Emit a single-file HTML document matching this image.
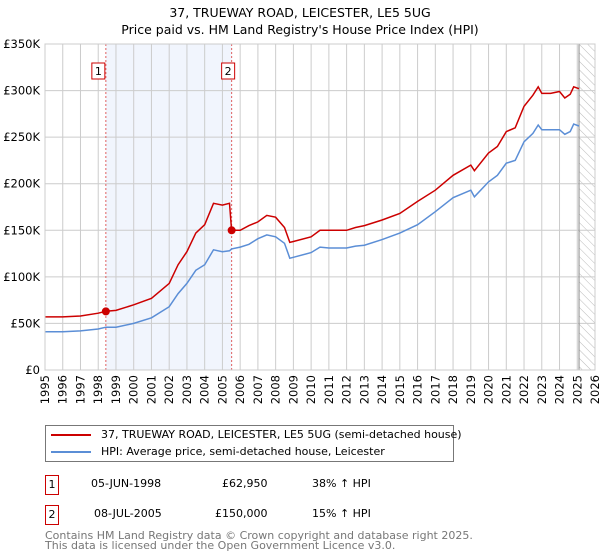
<!DOCTYPE html>
<html><head><meta charset="utf-8">
<style>
body{margin:0;background:#fff;font-family:"DejaVu Sans","Liberation Sans",sans-serif;}
#wrap{position:relative;width:600px;height:560px;overflow:hidden}
.t{position:absolute;font-size:11px;color:#000;white-space:nowrap}
</style></head><body>
<div id="wrap">
<svg id="chart" width="600" height="420" style="position:absolute;left:0;top:0"></svg>
<div style="position:absolute;left:45px;top:425px;width:407px;height:35px;border:1px solid #777">
 <div style="position:absolute;left:5px;top:8px;width:40px;height:2px;background:#cc0000"></div>
 <div class="t" style="left:55px;top:2px">37, TRUEWAY ROAD, LEICESTER, LE5 5UG (semi-detached house)</div>
 <div style="position:absolute;left:5px;top:25px;width:40px;height:2px;background:#5b8ed6"></div>
 <div class="t" style="left:55px;top:19px">HPI: Average price, semi-detached house, Leicester</div>
</div>
<div>
 <div class="t" style="left:45px;top:475px;width:12px;height:18px;border:1px solid #c00;text-align:center;line-height:18px">1</div>
 <div class="t" style="left:91px;top:477px">05-JUN-1998</div>
 <div class="t" style="left:222px;top:477px">£62,950</div>
 <div class="t" style="left:312px;top:477px">38% ↑ HPI</div>
</div>
<div>
 <div class="t" style="left:45px;top:505px;width:12px;height:18px;border:1px solid #c00;text-align:center;line-height:18px">2</div>
 <div class="t" style="left:94px;top:507px">08-JUL-2005</div>
 <div class="t" style="left:215px;top:507px">£150,000</div>
 <div class="t" style="left:312px;top:507px">15% ↑ HPI</div>
</div>
<div class="t" style="left:45px;top:531px;color:#777;line-height:10px">Contains HM Land Registry data © Crown copyright and database right 2025.<br>This data is licensed under the Open Government Licence v3.0.</div>
</div>
<script>
const hpiYears=[1995,1996,1997,1998,1998.43,1999,2000,2001,2002,2002.5,2003,2003.5,2004,2004.5,2005,2005.4,2005.52,2006,2006.5,2007,2007.5,2008,2008.5,2008.8,2009,2010,2010.5,2011,2012,2012.5,2013,2014,2015,2016,2017,2018,2019,2019.2,2020,2020.5,2021,2021.5,2022,2022.5,2022.8,2023,2023.5,2024,2024.3,2024.6,2024.8,2025.1];
const hpiValues=[41,41,42,44,46,46,50,56,68,82,93,107,113,129,127,128,130,132,135,141,145,143,136,120,121,126,132,131,131,133,134,140,147,156,170,185,193,186,202,209,222,225,245,254,263,258,258,258,253,256,264,262];
const priceValues=[57,57,58,61,63,64,70,77,93,113,127,147,156,179,177,179,150,150,155,159,166,164,153,137,138,143,150,150,150,153,155,161,168,181,193,209,220,214,233,240,256,260,283,295,304,297,297,299,292,296,304,302];
const yTicks=[0,50,100,150,200,250,300,350];
const yTickLabels=["£0","£50K","£100K","£150K","£200K","£250K","£300K","£350K"];
const sales=[{n:"1",year:1998.43,value:62.95},{n:"2",year:2005.52,value:150}];
const x0=45,x1=595,y0=370,y1=44;
const X=y=>x0+(y-1995)*(x1-x0)/31;
const Y=v=>y0-v*(y0-y1)/350;
const svg=document.getElementById('chart');const NS="http://www.w3.org/2000/svg";
function mk(t,a,p){const e=document.createElementNS(NS,t);for(const k in a)e.setAttribute(k,a[k]);(p||svg).appendChild(e);return e;}
let e;
e=mk('text',{x:300,y:17,'text-anchor':'middle','font-size':'12.5','font-family':'DejaVu Sans,sans-serif'});e.textContent="37, TRUEWAY ROAD, LEICESTER, LE5 5UG";


e=mk('text',{x:300,y:34,'text-anchor':'middle','font-size':'12.5','font-family':'DejaVu Sans,sans-serif'});e.textContent="Price paid vs. HM Land Registry's House Price Index (HPI)";


e=mk('rect',{x:X(sales[0].year),y:y1,width:X(sales[1].year)-X(sales[0].year),height:y0-y1,fill:'#eef3fc',opacity:0.8});


const defs=mk('defs',{});const pat=mk('pattern',{id:'h',width:6,height:6,patternUnits:'userSpaceOnUse',patternTransform:'rotate(-45)'},defs);mk('line',{x1:0,y1:0,x2:0,y2:6,stroke:'#bbb','stroke-width':1},pat);
e=mk('rect',{x:X(2025.1),y:y1,width:x1-X(2025.1),height:y0-y1,fill:'url(#h)'});


for(let yr=1995;yr<=2026;yr++){
 e=mk('line',{x1:X(yr),x2:X(yr),y1:y1,y2:y0,stroke:'#cccccc','stroke-width':1});
 
 
 const tx=X(yr)+4,ty=375;
 e=mk('text',{x:tx,y:ty,'text-anchor':'end','font-size':'11.5','font-family':'DejaVu Sans,sans-serif',transform:`rotate(-90 ${tx} ${ty})`});e.textContent=yr;
 
 
}
yTicks.forEach((v,i)=>{
 e=mk('line',{x1:x0,x2:x1,y1:Y(v),y2:Y(v),stroke:'#cccccc','stroke-width':1});
 
 
 e=mk('text',{x:40,y:Y(v)+4,'text-anchor':'end','font-size':'11.5','font-family':'DejaVu Sans,sans-serif'});e.textContent=yTickLabels[i];
 
 
});
e=mk('line',{x1:X(2025.1),x2:X(2025.1),y1:y1,y2:y0,stroke:'#888','stroke-width':1});


sales.forEach(s=>{
 e=mk('line',{x1:X(s.year),x2:X(s.year),y1:y1,y2:y0,stroke:'#e06060','stroke-width':1,'stroke-dasharray':'2,2'});
 
 
});
const pts=a=>hpiYears.map((yr,i)=>X(yr).toFixed(1)+','+Y(a[i]).toFixed(1)).join(' ');
e=mk('polyline',{points:pts(hpiValues),fill:'none',stroke:'#5b8ed6','stroke-width':1.5});


e=mk('polyline',{points:pts(priceValues),fill:'none',stroke:'#cc0000','stroke-width':1.5});


sales.forEach(s=>{
 e=mk('circle',{cx:X(s.year),cy:Y(s.value),r:4,fill:'#cc0000'});
 
 
 const bx=X(s.year)-7-(s.n==="1"?7:3);
 e=mk('rect',{x:bx,y:63,width:13,height:16,fill:'#fff',stroke:'#c00','stroke-width':1});
 
 
 e=mk('text',{x:bx+6.5,y:75,'text-anchor':'middle','font-size':'11','font-family':'DejaVu Sans,sans-serif'});e.textContent=s.n;
 
 
});
e=mk('rect',{x:x0,y:y1,width:x1-x0,height:y0-y1,fill:'none',stroke:'#cccccc'});


</script>
</body></html>
